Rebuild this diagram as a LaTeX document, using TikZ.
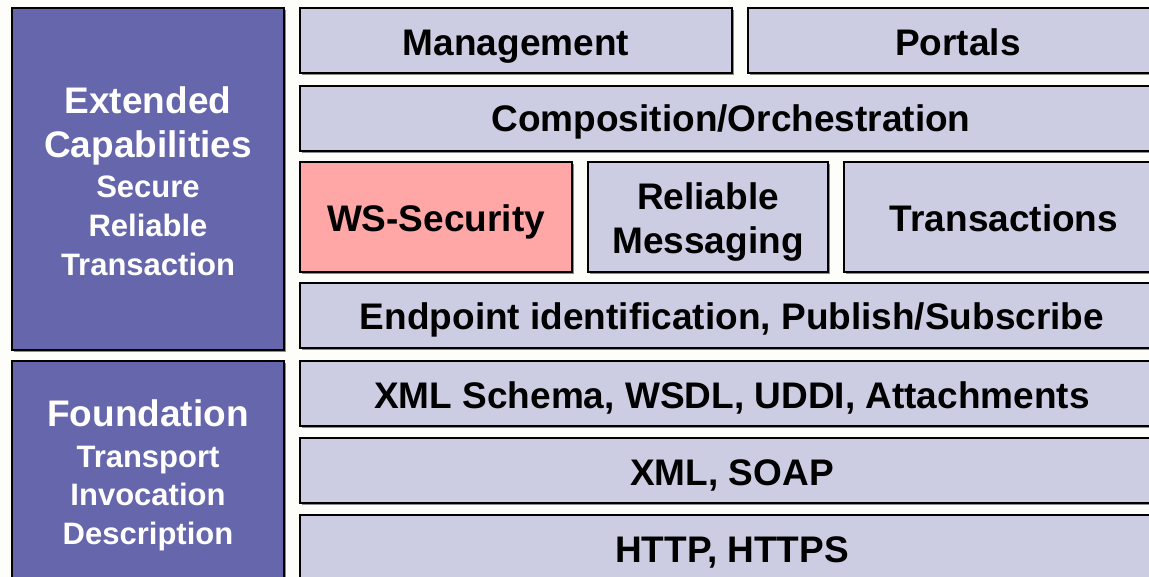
\documentclass[tikz,border=0pt]{standalone}
\usepackage{fontspec}
\setmainfont{Liberation Sans}
\definecolor{purp}{RGB}{102,102,173}
\definecolor{lav}{RGB}{204,204,227}
\definecolor{pink}{RGB}{255,166,166}
\definecolor{bg}{RGB}{253,253,250}
\tikzset{
  box/.style={draw=black, line width=2pt, inner sep=0pt, font=\bfseries\fontsize{37}{44}\selectfont, text=black},
  lbox/.style={box, fill=lav},
  pbox/.style={box, fill=purp, text=white},
  sbox/.style={box, fill=pink},
  shadow/.style={fill=black!45},
}
\newcommand{\bx}[6]{% name, style, x1, y1, x2, y2
  \fill[shadow] (#3+1.5,-#4-2) rectangle (#5+1.5,-#6-2);
  \node[#2, minimum width=#5-#3, minimum height=#6-#4] (#1) at ({(#3+#5)/2},{-(#4+#6)/2}) {};
}
\begin{document}
\begin{tikzpicture}[x=1pt,y=1pt]
\fill[bg] (0,0) rectangle (1149,-577);
\useasboundingbox (0,0) rectangle (1149,-577);
\bx{ext}{pbox}{12}{8}{284}{350}
\bx{fnd}{pbox}{12}{361}{284}{590}
\bx{mgmt}{lbox}{300}{8}{732}{73}
\bx{port}{lbox}{748}{8}{1168}{73}
\bx{comp}{lbox}{300}{86}{1162}{151}
\bx{wss}{sbox}{300}{162}{572}{272}
\bx{rel}{lbox}{588}{162}{828}{272}
\bx{trans}{lbox}{844}{162}{1162}{272}
\bx{endp}{lbox}{300}{283}{1162}{348}
\bx{xsd}{lbox}{300}{361}{1162}{426}
\bx{soap}{lbox}{300}{438}{1162}{503}
\bx{http}{lbox}{300}{515}{1162}{590}
\tikzset{lbl/.style={font=\bfseries\fontsize{37}{44}\selectfont, inner sep=0pt, align=center}}
\node[lbl, anchor=base] (tmgmt) at (516,-56) {Management};
\node[lbl, anchor=base] (tport) at (958,-56) {Portals};
\node[lbl, anchor=base] (tcomp) at (731,-132) {Composition/Orchestration};
\node[lbl, anchor=base] (twss) at (436,-232) {WS-Security};
\node[lbl, anchor=base] (trel1) at (708,-210) {Reliable};
\node[lbl, anchor=base] (trel2) at (708,-254) {Messaging};
\node[lbl, anchor=base] (ttrans) at (1004,-232) {Transactions};
\node[lbl, anchor=base] (tendp) at (732,-330) {Endpoint identification, Publish/Subscribe};
\node[lbl, anchor=base] (txsd) at (732,-408) {XML Schema, WSDL, UDDI, Attachments};
\node[lbl, anchor=base] (tsoap) at (732,-485) {XML, SOAP};
\node[lbl, anchor=base] (thttp) at (732,-562) {HTTP, HTTPS};
\tikzset{wl/.style={lbl, text=white}, ws/.style={wl, font=\bfseries\fontsize{31}{39}\selectfont}}
\node[wl, anchor=base] (e1) at (148,-114) {Extended};
\node[wl, anchor=base] (e2) at (148,-158) {Capabilities};
\node[ws, anchor=base] (e3) at (148,-198) {Secure};
\node[ws, anchor=base] (e4) at (148,-237) {Reliable};
\node[ws, anchor=base] (e5) at (148,-276) {Transaction};
\node[wl, anchor=base] (f1) at (148,-426) {Foundation};
\node[ws, anchor=base] (f2) at (148,-467) {Transport};
\node[ws, anchor=base] (f3) at (148,-505) {Invocation};
\node[ws, anchor=base] (f4) at (148,-544) {Description};
\end{tikzpicture}
\end{document}
